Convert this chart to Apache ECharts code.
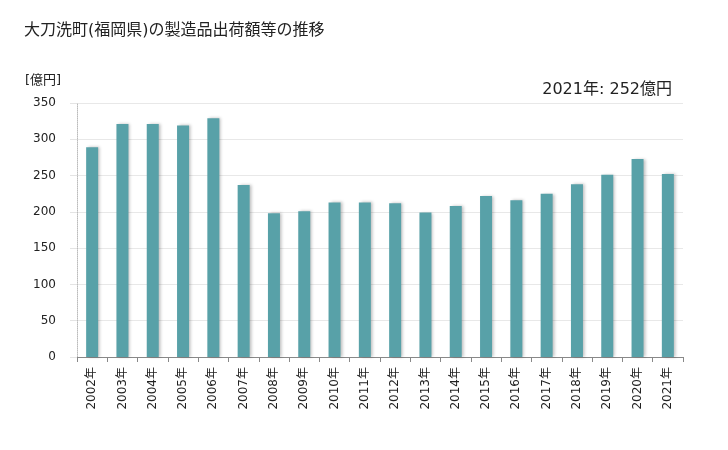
<!DOCTYPE html>
<html><head><meta charset="utf-8">
<script src="https://cdn.jsdelivr.net/npm/echarts@6/dist/echarts.min.js"></script>
<style>html,body{margin:0;padding:0;background:#fff}#c{width:728px;height:450px}</style>
</head><body><div id="c"></div>
<script>
const years = ["2002年","2003年","2004年","2005年","2006年","2007年","2008年","2009年","2010年","2011年","2012年","2013年","2014年","2015年","2016年","2017年","2018年","2019年","2020年","2021年"];
const values = [289,321,321,319,329,237,198,201,213,213,212,199,208,222,216,225,238,251,273,252];
const titleText = "大刀洗町(福岡県)の製造品出荷額等の推移";
const unitText = "[億円]";
const noteText = "2021年: 252億円";
const F = '"DejaVu Sans", "Noto Sans CJK JP", sans-serif';
const chart = echarts.init(document.getElementById('c'));
chart.setOption({
  backgroundColor: '#fff',
  animation: false,
  textStyle: {fontFamily: F},
  title: [
    {text: titleText, left: 19, top: 18, textStyle: {fontSize: 16, fontWeight: 'normal', color: '#222', fontFamily: F}},
    {text: unitText, left: 20, top: 69, textStyle: {fontSize: 13, fontWeight: 'normal', color: '#222', fontFamily: F}},
    {text: noteText, right: 51, top: 77, textStyle: {fontSize: 16, fontWeight: 'normal', color: '#222', fontFamily: F}}
  ],
  grid: {left: 77, right: 45, top: 103, bottom: 93, containLabel: false, outerBoundsMode: 'none'},
  xAxis: {
    type: 'category', data: years,
    axisLine: {lineStyle: {color: '#888'}},
    axisTick: {show: true, lineStyle: {color: '#888'}},
    axisLabel: {rotate: 90, color: '#222', fontSize: 12, margin: 10, fontFamily: F},
    splitLine: {show: false}
  },
  yAxis: {
    type: 'value', min: 0, max: 350, interval: 50,
    axisLine: {show: true, lineStyle: {color: '#bbb', type: 'dotted'}},
    axisTick: {show: true, length: 7, lineStyle: {color: '#e4e4e4'}},
    axisLabel: {color: '#222', fontSize: 12, margin: 8, padding: [0, 13, 0, 0], fontFamily: F},
    splitLine: {lineStyle: {color: '#e8e8e8'}}
  },
  series: [{
    type: 'bar', data: values, barWidth: 12,
    itemStyle: {color: '#58A1A8', shadowColor: 'rgba(0,0,0,0.25)', shadowBlur: 3, shadowOffsetX: 2, shadowOffsetY: 0}
  }]
});
</script></body></html>
